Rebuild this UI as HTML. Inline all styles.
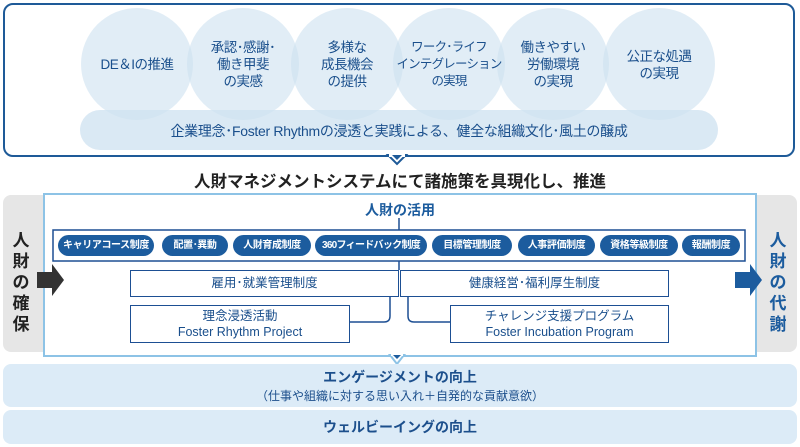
<!DOCTYPE html>
<html><head><meta charset="utf-8"><style>
body{margin:0;width:800px;height:447px;background:#fff;position:relative;overflow:hidden;font-family:"Liberation Sans","Noto Sans CJK JP",sans-serif;}
.a{position:absolute;}
.c{position:absolute;border-radius:50%;background:rgba(205,225,240,0.6);width:112px;height:112px;}
.ct{position:absolute;width:112px;text-align:center;color:#1a4f8c;font-size:13.5px;line-height:17px;letter-spacing:-0.5px;white-space:nowrap;}
.pill{position:absolute;top:235px;height:21px;background:#1c5c9e;color:#fff;border-radius:11px;font-size:10px;font-weight:bold;line-height:21px;text-align:center;box-shadow:0 0 0 1px #fff;letter-spacing:-0.4px;white-space:nowrap;}
.bx{position:absolute;border:1.5px solid #1d4f93;background:#fff;color:#1a4f8c;text-align:center;font-size:12.5px;box-sizing:border-box;}
.vt{position:absolute;width:24px;text-align:center;font-size:17px;font-weight:bold;line-height:21px;}
</style></head><body>
<div class="a" style="left:3px;top:3px;width:792px;height:154px;border:2px solid #1e5a98;border-radius:10px;box-sizing:border-box;"></div>
<div class="c" style="left:81px;top:8px"></div>
<div class="c" style="left:187px;top:8px"></div>
<div class="c" style="left:291px;top:8px"></div>
<div class="c" style="left:393px;top:8px"></div>
<div class="c" style="left:497px;top:8px"></div>
<div class="c" style="left:603px;top:8px"></div>
<div class="a" style="left:80px;top:110px;width:638px;height:40px;border-radius:20px;background:rgba(205,225,240,0.75);"></div>
<div class="ct" style="left:81px;top:56px">DE＆Iの推進</div>
<div class="ct" style="left:187px;top:39px">承認･感謝･<br>働き甲斐<br>の実感</div>
<div class="ct" style="left:291px;top:39px">多様な<br>成長機会<br>の提供</div>
<div class="ct" style="left:393px;top:39px;font-size:12.5px;letter-spacing:-0.8px">ワーク･ライフ<br>インテグレーション<br>の実現</div>
<div class="ct" style="left:497px;top:39px">働きやすい<br>労働環境<br>の実現</div>
<div class="ct" style="left:603px;top:48px">公正な処遇<br>の実現</div>
<div class="a" style="left:80px;top:121px;width:638px;text-align:center;color:#1a4f8c;font-size:14px;letter-spacing:-0.3px">企業理念･Foster Rhythmの浸透と実践による、健全な組織文化･風土の醸成</div>
<svg class="a" style="left:0;top:0" width="800" height="447">
<polygon points="388,155 406,155 397,164" fill="#fff" stroke="#1e5a98" stroke-width="2"/>
<rect x="389" y="154" width="16" height="3" fill="#fff"/>
<polygon points="392,155 402,155 397,160" fill="#1e5a98"/>
</svg>
<div class="a" style="left:0;top:168px;width:800px;text-align:center;font-size:16.5px;font-weight:bold;color:#222;">人財マネジメントシステムにて諸施策を具現化し、推進</div>
<div class="a" style="left:3px;top:195px;width:794px;height:157px;background:#e6e6e6;border-radius:8px;"></div>
<div class="a" style="left:43px;top:193px;width:714px;height:164px;background:#fff;border:2px solid #8dc3e6;box-sizing:border-box;"></div>
<div class="a" style="left:0;top:200px;width:800px;text-align:center;font-size:14px;font-weight:bold;color:#1c5c9e;">人財の活用</div>
<svg class="a" style="left:0;top:0" width="800" height="447">
<line x1="399" y1="218" x2="399" y2="231" stroke="#1d4f93" stroke-width="1.5"/>
<rect x="53" y="230" width="692" height="31" fill="#fff" stroke="#1d4f93" stroke-width="1.5"/>
<line x1="399" y1="261" x2="399" y2="270" stroke="#1d4f93" stroke-width="1.5"/>
<path d="M390 296 V316 Q390 322 384 322 H350" fill="none" stroke="#1d4f93" stroke-width="1.5"/>
<path d="M408 296 V316 Q408 322 414 322 H450" fill="none" stroke="#1d4f93" stroke-width="1.5"/>
<polygon points="37,272 52,272 52,264 64,280 52,296 52,288 37,288" fill="#333"/>
<polygon points="735,272 750,272 750,264 762,280 750,296 750,288 735,288" fill="#1c5c9e"/>
<polygon points="390,355 404,355 397,364" fill="#fff" stroke="#8dc3e6" stroke-width="2"/>
<rect x="391" y="352" width="12" height="4" fill="#fff"/>
<polygon points="393,355 401,355 397,359" fill="#1c5c9e"/>
</svg>
<div class="pill" style="left:58px;width:96px">キャリアコース制度</div>
<div class="pill" style="left:162px;width:66px">配置･異動</div>
<div class="pill" style="left:233px;width:78px">人財育成制度</div>
<div class="pill" style="left:315px;width:112px;letter-spacing:-0.7px">360フィードバック制度</div>
<div class="pill" style="left:432px;width:80px">目標管理制度</div>
<div class="pill" style="left:518px;width:77px">人事評価制度</div>
<div class="pill" style="left:600px;width:78px">資格等級制度</div>
<div class="pill" style="left:682px;width:58px">報酬制度</div>
<div class="bx" style="left:130px;top:270px;width:269px;height:27px;line-height:24px">雇用･就業管理制度</div>
<div class="bx" style="left:400px;top:270px;width:269px;height:27px;line-height:24px">健康経営･福利厚生制度</div>
<div class="bx" style="left:130px;top:305px;width:220px;height:38px;line-height:16px;padding-top:2px">理念浸透活動<br>Foster Rhythm Project</div>
<div class="bx" style="left:450px;top:305px;width:219px;height:38px;line-height:16px;padding-top:2px">チャレンジ支援プログラム<br>Foster Incubation Program</div>
<div class="vt" style="left:9px;top:230px;color:#222">人<br>財<br>の<br>確<br>保</div>
<div class="vt" style="left:766px;top:230px;color:#1c5c9e">人<br>財<br>の<br>代<br>謝</div>
<div class="a" style="left:3px;top:364px;width:794px;height:43px;background:#dcebf7;border-radius:8px;"></div>
<div class="a" style="left:3px;top:410px;width:794px;height:34px;background:#dcebf7;border-radius:8px;"></div>
<div class="a" style="left:0;top:367px;width:800px;text-align:center;font-size:14px;font-weight:bold;color:#1c4f8c;">エンゲージメントの向上</div>
<div class="a" style="left:0;top:387px;width:800px;text-align:center;font-size:12px;color:#1c4f8c;">（仕事や組織に対する思い入れ＋自発的な貢献意欲）</div>
<div class="a" style="left:0;top:417px;width:800px;text-align:center;font-size:14px;font-weight:bold;color:#1c4f8c;">ウェルビーイングの向上</div>
</body></html>
